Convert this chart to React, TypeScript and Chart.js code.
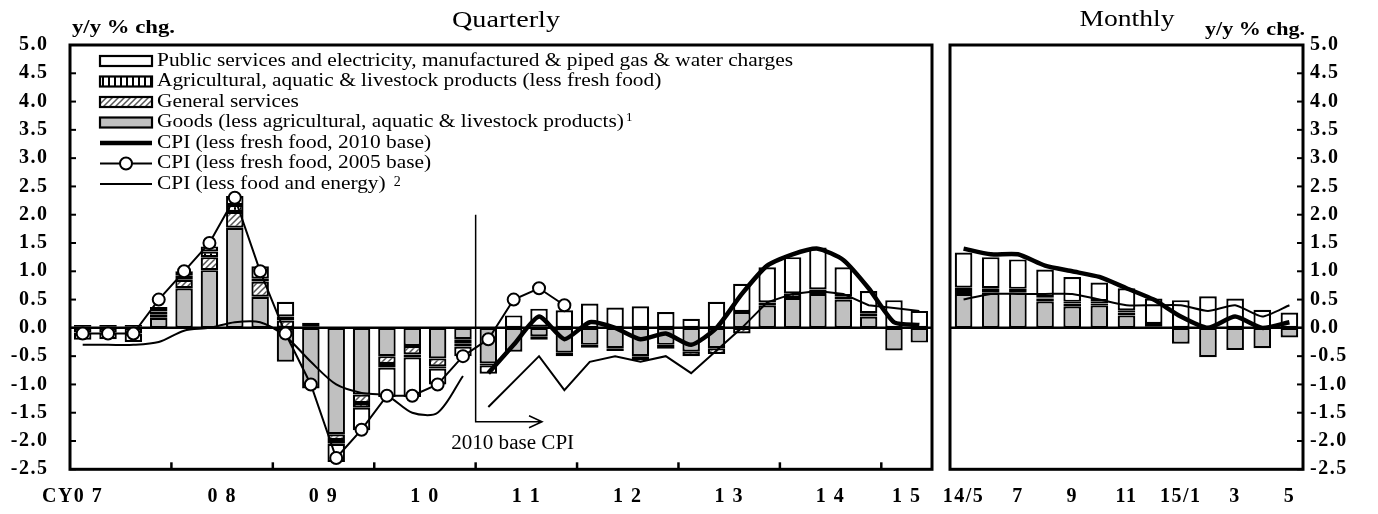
import React, { useEffect, useRef } from 'react';
import { Chart, registerables } from 'chart.js';

Chart.register(...registerables);

const FONT = '"Liberation Serif", "Times New Roman", serif';

// ---------- Quarterly panel (CY2007 Q1 .. CY2015 Q2) ----------
const quarterTicks = [
  'CY0 7       ', '', '', '',
  '', '0 8', '', '',
  '', '0 9', '', '',
  '', '1 0', '', '',
  '', '1 1', '', '',
  '', '1 2', '', '',
  '', '1 3', '', '',
  '', '1 4', '', '',
  '1 5', '',
];

const qGoods = [
  -0.08, -0.08, -0.1, 0.18,
  0.7, 1.02, 1.77, 0.55,
  -0.6, -1.07, -1.88, -1.18,
  -0.5, -0.32, -0.54, -0.2,
  -0.63, -0.42, -0.15, -0.44,
  -0.3, -0.36, -0.5, -0.3,
  -0.42, -0.36, 0.28, 0.4,
  0.53, 0.6, 0.5, 0.2,
  -0.4, -0.26,
];
const qGeneralServices = [
  0.02, 0.02, 0.02, 0.05,
  0.15, 0.23, 0.28, 0.27,
  0.13, 0.0, -0.1, -0.15,
  -0.14, -0.15, -0.14, -0.08,
  0.0, 0.0, 0.02, 0.0,
  -0.05, 0.0, -0.07, -0.07,
  -0.08, -0.1, -0.1, 0.0,
  0.0, 0.0, 0.0, 0.0,
  0.0, 0.0,
];
const qAgricultural = [
  0.03, 0.03, 0.03, 0.06,
  0.07, 0.1, 0.12, 0.05,
  0.07, 0.02, -0.07, -0.08,
  -0.06, -0.05, -0.04, -0.05,
  -0.03, 0.0, -0.06, -0.06,
  0.0, -0.05, 0.0, 0.0,
  0.0, 0.0, 0.0, 0.05,
  0.08, 0.08, 0.06, 0.06,
  0.0, 0.0,
];
const qPublic = [
  -0.13, -0.12, -0.15, 0.08,
  0.08, 0.09, 0.16, 0.22,
  0.26, 0.07, -0.32, -0.4,
  -0.52, -0.7, -0.28, -0.17,
  -0.15, 0.22, 0.32, 0.31,
  0.43, 0.36, 0.38, 0.28,
  0.16, 0.46, 0.5, 0.62,
  0.64, 0.74, 0.51, 0.39,
  0.49, 0.3,
];
const qCpi2010 = [
  null, null, null, null,
  null, null, null, null,
  null, null, null, null,
  null, null, null, null,
  -0.8, -0.3, 0.2, -0.2,
  0.1, 0.0, -0.2, -0.1,
  -0.3, 0.0, 0.6, 1.1,
  1.3, 1.4, 1.2, 0.7,
  0.1, 0.05,
];
const qCpi2005 = [
  -0.1, -0.1, -0.1, 0.5,
  1.0, 1.5, 2.3, 1.0,
  -0.1, -1.0, -2.3, -1.8,
  -1.2, -1.2, -1.0, -0.5,
  -0.2, 0.5, 0.7, 0.4,
  null, null, null, null,
  null, null, null, null,
  null, null, null, null,
  null, null,
];
const qCoreOld = [
  -0.3, -0.3, -0.3, -0.25,
  -0.05, 0.0, 0.1, 0.1,
  -0.15, -0.6, -1.0, -1.15,
  -1.2, -1.5, -1.5, -0.85,
  null, null, null, null,
  null, null, null, null,
  null, null, null, null,
  null, null, null, null,
  null, null,
];
const qCoreNew = [
  null, null, null, null,
  null, null, null, null,
  null, null, null, null,
  null, null, null, null,
  -1.4, -0.95, -0.5, -1.1,
  -0.6, -0.5, -0.6, -0.5,
  -0.8, -0.4, 0.0, 0.45,
  0.6, 0.65, 0.6, 0.4,
  0.35, 0.3,
];

// ---------- Monthly panel (2014/5 .. 2015/5) ----------
const monthTicks = ['14/5', '', '7', '', '9', '', '11', '', '15/1', '', '3', '', '5'];
const mGoods = [0.6, 0.62, 0.63, 0.47, 0.38, 0.4, 0.22, 0.03, -0.28, -0.52, -0.39, -0.36, -0.17];
const mGeneralServices = [0.05, 0.0, 0.0, 0.05, 0.05, 0.03, 0.05, 0.0, 0.0, 0.0, 0.0, 0.0, 0.0];
const mAgricultural = [0.06, 0.08, 0.06, 0.02, 0.03, 0.04, 0.04, 0.04, 0.0, 0.0, 0.0, 0.0, 0.0];
const mPublic = [0.62, 0.55, 0.52, 0.49, 0.44, 0.33, 0.39, 0.45, 0.49, 0.56, 0.52, 0.32, 0.27];
const mCpi2010 = [1.4, 1.3, 1.3, 1.1, 1.0, 0.9, 0.7, 0.5, 0.2, 0.0, 0.2, 0.0, 0.1];
const mCore = [0.5, 0.6, 0.6, 0.6, 0.6, 0.5, 0.4, 0.4, 0.4, 0.3, 0.4, 0.2, 0.4];

const legendLabels = [
  'Public services and electricity, manufactured & piped gas & water charges',
  'Agricultural, aquatic & livestock products (less fresh food)',
  'General services',
  'Goods (less agricultural, aquatic & livestock products)',
  'CPI (less fresh food, 2010 base)',
  'CPI (less fresh food, 2005 base)',
  'CPI (less food and energy)',
];

const GRAY = '#c0c0c0';

function makeStripe(ctx: CanvasRenderingContext2D) {
  const c = document.createElement('canvas');
  c.width = 6; c.height = 6;
  const g = c.getContext('2d')!;
  g.fillStyle = '#fff'; g.fillRect(0, 0, 6, 6);
  g.fillStyle = '#000'; g.fillRect(0, 0, 2, 6);
  return ctx.createPattern(c, 'repeat')!;
}
function makeHatch(ctx: CanvasRenderingContext2D) {
  const c = document.createElement('canvas');
  c.width = 6; c.height = 6;
  const g = c.getContext('2d')!;
  g.fillStyle = '#fff'; g.fillRect(0, 0, 6, 6);
  g.strokeStyle = '#555'; g.lineWidth = 1.5;
  g.beginPath();
  g.moveTo(0, 6); g.lineTo(6, 0);
  g.moveTo(-1, 1); g.lineTo(1, -1);
  g.moveTo(5, 7); g.lineTo(7, 5);
  g.stroke();
  return ctx.createPattern(c, 'repeat')!;
}

function stretchText(ctx: CanvasRenderingContext2D, text: string, x: number, y: number, font: string, width: number | null, align: string, baseline: CanvasTextBaseline = 'middle') {
  ctx.save();
  ctx.font = font;
  ctx.fillStyle = '#000';
  ctx.textBaseline = baseline;
  ctx.textAlign = 'left';
  const w = ctx.measureText(text).width;
  const tw = width == null ? w : width;
  const sx = tw / w;
  const left = align === 'center' ? x - tw / 2 : align === 'right' ? x - tw : x;
  ctx.translate(left, y);
  ctx.scale(sx, 1);
  ctx.fillText(text, 0, 0);
  ctx.restore();
  return tw;
}

function barSets(goods: number[], gen: number[], agri: number[], pub: number[], hatch: CanvasPattern, stripe: CanvasPattern, pct: number) {
  const common = {
    type: 'bar' as const, stack: 'bars', borderColor: '#000', borderWidth: 2.2,
    borderSkipped: false, barPercentage: pct, categoryPercentage: 1, order: 5,
  };
  return [
    { ...common, label: legendLabels[3], data: goods, backgroundColor: GRAY },
    { ...common, label: legendLabels[2], data: gen, backgroundColor: hatch },
    { ...common, label: legendLabels[1], data: agri, backgroundColor: stripe },
    { ...common, label: legendLabels[0], data: pub, backgroundColor: '#fff' },
  ];
}

function lineSet(label: string, data: (number | null)[], width: number, stack: string, order: number, tension: number, extra: any = {}) {
  return {
    type: 'line' as const, label, data, borderColor: '#000', borderWidth: width,
    pointRadius: 0, tension, fill: false, spanGaps: false, stack, order, ...extra,
  };
}

const tickFont = { family: FONT, size: 20, weight: 'bold' as const };
const SPACING = '1.5px';

function yAxis(position: 'left' | 'right', width: number, padding: number) {
  return {
    position, min: -2.5, max: 5, stacked: true,
    grid: { display: false, drawTicks: false }, border: { display: false },
    ticks: {
      stepSize: 0.5, color: '#000', font: tickFont, padding,
      callback: (v: any) => Number(v).toFixed(1),
    },
    afterFit: (s: any) => { s.width = width; },
  };
}

function xAxis(labelOffset: number) {
  return {
    stacked: true,
    grid: { display: false, drawTicks: false }, border: { display: false },
    ticks: { autoSkip: false, maxRotation: 0, minRotation: 0, color: '#000', font: tickFont, padding: 16, labelOffset },
    afterFit: (s: any) => { s.height = 44.7; s.paddingLeft = 0; s.paddingRight = 0; },
  };
}

function drawFrameAndYTicks(chart: any, side: 'left' | 'right') {
  const { ctx, chartArea: a, scales } = chart;
  const y = scales.y;
  ctx.save();
  ctx.strokeStyle = '#000';
  ctx.lineWidth = 2;
  y.ticks.forEach((t: any) => {
    const py = y.getPixelForValue(t.value);
    ctx.beginPath();
    if (side === 'left') { ctx.moveTo(a.left, py); ctx.lineTo(a.left + 6, py); }
    else { ctx.moveTo(a.right, py); ctx.lineTo(a.right - 6, py); }
    ctx.stroke();
  });
  ctx.lineWidth = 3;
  ctx.strokeRect(a.left, a.top, a.right - a.left, a.bottom - a.top);
  ctx.restore();
}

function zeroLine(chart: any) {
  const { ctx, chartArea: a, scales } = chart;
  const y0 = scales.y.getPixelForValue(0);
  ctx.save();
  ctx.strokeStyle = '#000';
  ctx.lineWidth = 2.5;
  ctx.beginPath(); ctx.moveTo(a.left, y0); ctx.lineTo(a.right, y0); ctx.stroke();
  ctx.restore();
}

function drawLegend(ctx: CanvasRenderingContext2D, a: any, hatch: CanvasPattern, stripe: CanvasPattern) {
  const x0 = a.left + 30, x1 = a.left + 82, tx = a.left + 87;
  const rows = [61, 81.5, 102, 122.5, 143, 163.5, 184];
  const font = `19px ${FONT}`;
  ctx.save();
  ctx.font = font;
  const sx = 636 / ctx.measureText(legendLabels[0]).width;
  ctx.restore();
  const fills: any[] = ['#fff', stripe, hatch, GRAY];
  rows.forEach((ry, i) => {
    ctx.save();
    ctx.strokeStyle = '#000';
    if (i < 4) {
      ctx.fillStyle = fills[i];
      ctx.fillRect(x0, ry - 5, x1 - x0, 10);
      ctx.lineWidth = 2.2;
      ctx.strokeRect(x0, ry - 5, x1 - x0, 10);
    } else {
      ctx.lineWidth = i === 4 ? 4.5 : 2;
      ctx.beginPath(); ctx.moveTo(x0, ry); ctx.lineTo(x1, ry); ctx.stroke();
      if (i === 5) {
        ctx.beginPath(); ctx.arc((x0 + x1) / 2, ry, 6, 0, Math.PI * 2);
        ctx.fillStyle = '#fff'; ctx.fill(); ctx.lineWidth = 2; ctx.stroke();
      }
    }
    ctx.restore();
    ctx.save();
    ctx.font = font;
    const w = ctx.measureText(legendLabels[i]).width * sx;
    ctx.restore();
    stretchText(ctx, legendLabels[i], tx, ry, font, w, 'left');
    if (i === 3) stretchText(ctx, '1', tx + w + 2, ry - 5, `13px ${FONT}`, null, 'left');
    if (i === 6) stretchText(ctx, '2', tx + w + 8, ry - 2, `14px ${FONT}`, null, 'left');
  });
}

export default function App() {
  const qRef = useRef<HTMLCanvasElement>(null);
  const mRef = useRef<HTMLCanvasElement>(null);

  useEffect(() => {
    document.body.style.margin = '0';
    const qc = qRef.current!;
    const mc = mRef.current!;
    const qctx = qc.getContext('2d')!;
    const mctx = mc.getContext('2d')!;
    const qHatch = makeHatch(qctx), qStripe = makeStripe(qctx);
    const mHatch = makeHatch(mctx), mStripe = makeStripe(mctx);

    const qPlugin = {
      id: 'qDecor',
      beforeDraw(chart: any) { chart.ctx.letterSpacing = SPACING; },
      beforeDatasetsDraw(chart: any) { chart.ctx.letterSpacing = '0px'; zeroLine(chart); },
      afterDraw(chart: any) {
        const { ctx, chartArea: a, scales } = chart;
        const xs = scales.x, ys = scales.y;
        ctx.letterSpacing = '0px';
        drawFrameAndYTicks(chart, 'left');
        // year boundary ticks
        ctx.save();
        ctx.strokeStyle = '#000'; ctx.lineWidth = 2.5;
        for (let k = 4; k < quarterTicks.length; k += 4) {
          const px = (xs.getPixelForValue(k - 1) + xs.getPixelForValue(k)) / 2;
          ctx.beginPath(); ctx.moveTo(px, a.bottom); ctx.lineTo(px, a.bottom - 7); ctx.stroke();
        }
        // 2010 base CPI marker
        const bx = (xs.getPixelForValue(15) + xs.getPixelForValue(16)) / 2;
        const top = ys.getPixelForValue(2.0);
        const by = ys.getPixelForValue(-1.66);
        const ex = xs.getPixelForValue(18) + 3;
        ctx.lineWidth = 1.5;
        ctx.beginPath();
        ctx.moveTo(bx, top); ctx.lineTo(bx, by); ctx.lineTo(ex, by);
        ctx.moveTo(ex - 13, by - 6); ctx.lineTo(ex, by); ctx.lineTo(ex - 13, by + 6);
        ctx.stroke();
        ctx.restore();
        stretchText(ctx, '2010 base CPI', bx + 37, by + 27, `20px ${FONT}`, 123, 'center', 'alphabetic');
        drawLegend(ctx, a, qHatch, qStripe);
        stretchText(ctx, 'Quarterly', 506, 27, `24px ${FONT}`, 108, 'center', 'alphabetic');
        stretchText(ctx, 'y/y % chg.', 72, 33, `bold 18px ${FONT}`, 103, 'left', 'alphabetic');
      },
    };

    const mPlugin = {
      id: 'mDecor',
      beforeDraw(chart: any) { chart.ctx.letterSpacing = SPACING; },
      beforeDatasetsDraw(chart: any) { chart.ctx.letterSpacing = '0px'; zeroLine(chart); },
      afterDraw(chart: any) {
        const { ctx } = chart;
        ctx.letterSpacing = '0px';
        drawFrameAndYTicks(chart, 'right');
        stretchText(ctx, 'Monthly', 187, 26, `24px ${FONT}`, 95, 'center', 'alphabetic');
        stretchText(ctx, 'y/y % chg.', 365, 35, `bold 18px ${FONT}`, 100, 'right', 'alphabetic');
      },
    };

    const qChart = new Chart(qc, {
      type: 'bar',
      data: {
        labels: quarterTicks,
        datasets: [
          ...barSets(qGoods, qGeneralServices, qAgricultural, qPublic, qHatch, qStripe, 0.69),
          lineSet(legendLabels[4], qCpi2010, 4.5, 'l1', 1, 0.2),
          lineSet(legendLabels[5], qCpi2005, 2, 'l2', 0, 0, {
            pointRadius: 6, pointBackgroundColor: '#fff', pointBorderColor: '#000', pointBorderWidth: 2,
          }),
          lineSet(legendLabels[6], qCoreOld, 2, 'l3', 2, 0.3),
          lineSet(legendLabels[6] + ' (2010 base)', qCoreNew, 2, 'l4', 2, 0),
        ] as any,
      },
      options: {
        responsive: false, animation: false, devicePixelRatio: 1, events: [],
        layout: { padding: { top: 45, left: 0, right: 7, bottom: 0 } },
        plugins: { legend: { display: false }, tooltip: { enabled: false }, title: { display: false } },
        scales: {
          x: xAxis(12.7),
          y: yAxis('left', 70, 21.5),
        },
      } as any,
      plugins: [qPlugin],
    });

    const mChart = new Chart(mc, {
      type: 'bar',
      data: {
        labels: monthTicks,
        datasets: [
          ...barSets(mGoods, mGeneralServices, mAgricultural, mPublic, mHatch, mStripe, 0.65),
          lineSet(legendLabels[4], mCpi2010, 4.5, 'l1', 1, 0.2),
          lineSet(legendLabels[6], mCore, 2, 'l3', 2, 0.2),
        ] as any,
      },
      options: {
        responsive: false, animation: false, devicePixelRatio: 1, events: [],
        layout: { padding: { top: 45, left: 10, right: 0, bottom: 0 } },
        plugins: { legend: { display: false }, tooltip: { enabled: false }, title: { display: false } },
        scales: {
          x: xAxis(0),
          y: yAxis('right', 75, 7),
        },
      } as any,
      plugins: [mPlugin],
    });

    return () => { qChart.destroy(); mChart.destroy(); };
  }, []);

  return (
    <div style={{ position: 'absolute', left: 0, top: 0, width: 1378, height: 514, background: '#fff' }}>
      <canvas ref={qRef} width={940} height={514}
        style={{ position: 'absolute', left: 0, top: 0, width: '940px', height: '514px' }} />
      <canvas ref={mRef} width={438} height={514}
        style={{ position: 'absolute', left: 940, top: 0, width: '438px', height: '514px' }} />
    </div>
  );
}
